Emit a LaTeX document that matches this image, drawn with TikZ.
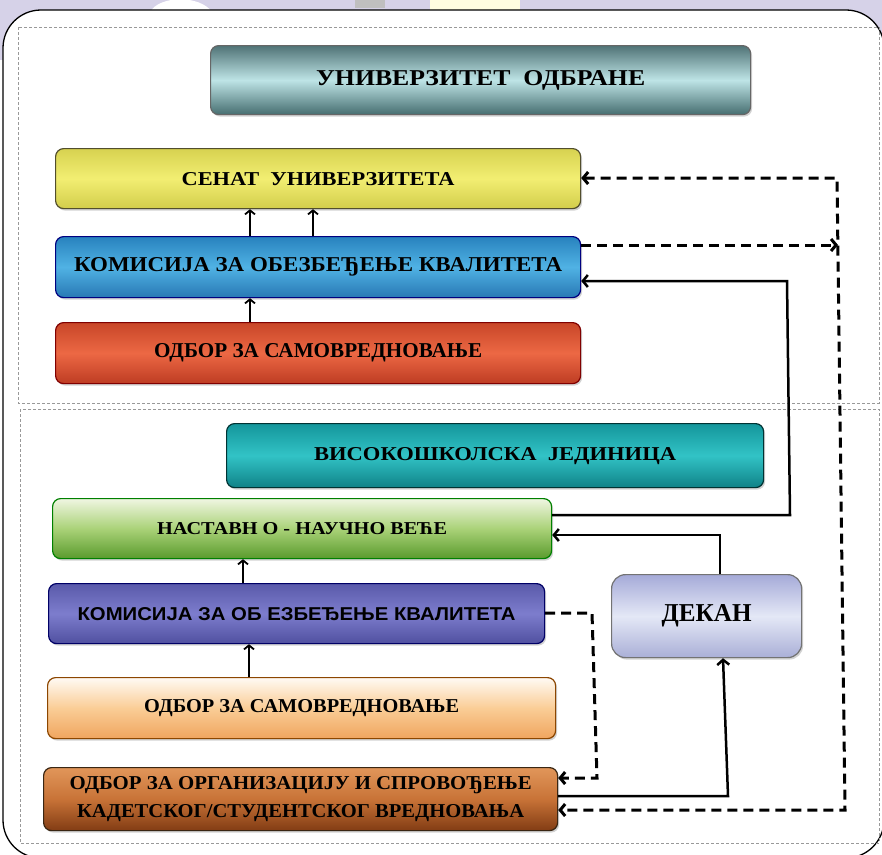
\documentclass[tikz,border=0pt]{standalone}
\usepackage{graphicx}
\usepackage{fontspec}
\setmainfont{Liberation Serif}
\newfontfamily\sansf{Liberation Sans}
\usetikzlibrary{arrows.meta,shadows}
\newcommand\fitt[3]{\resizebox{#1pt}{#2pt}{#3}}
\definecolor{lav}{HTML}{D6D2E8}
\begin{document}
\begin{tikzpicture}[x=1pt,y=-1pt,
  >={Straight Barb[length=5pt,width=12pt]},
  box/.style={rounded corners=8pt, draw=#1, line width=1.2pt, anchor=north west,
    inner sep=0pt, drop shadow={shadow xshift=1.5pt, shadow yshift=-2pt, opacity=0.35},
    font=\bfseries},
  panel/.style={draw=black!40, line width=0.6pt, dash pattern=on 3pt off 2pt},
  thinarr/.style={-{Straight Barb[length=4pt,width=10pt]}, line width=1.8pt},
  solidc/.style={line width=2.5pt, line join=miter},
  dashc/.style={line width=3pt, dash pattern=on 10pt off 6pt, line join=miter}]
\useasboundingbox (0,0) rectangle (882,854);
% background
\fill[lav] (0,0) rectangle (882,60);
\fill[white!60!yellow!30] (430,0) rectangle (520,12);
\fill[white] (150,12) .. controls (160,-5) and (200,-5) .. (212,12) -- cycle;
\fill[black!25] (355,0) rectangle (385,8);
\draw[fill=white, line width=1.3pt, rounded corners=38pt] (3,10) rectangle (884,858);
\draw[panel] (18,27) rectangle (879,403);
\draw[panel] (20,409) rectangle (879,843);
% boxes
\node[box=black!60, top color={rgb,255:red,80;green,115;blue,118}, bottom color={rgb,255:red,70;green,110;blue,112}, middle color={rgb,255:red,190;green,228;blue,230},
  minimum width=540pt, minimum height=69pt] (uni) at (210,45) {\fitt{329}{15}{УНИВЕРЗИТЕТ\ \ ОДБРАНЕ}};
\node[box=black!55!olive, top color={rgb,255:red,215;green,210;blue,80}, bottom color={rgb,255:red,210;green,205;blue,75}, middle color={rgb,255:red,242;green,238;blue,114},
  minimum width=525pt, minimum height=60pt] (senat) at (55,148) {\fitt{273}{13}{СЕНАТ\ \ УНИВЕРЗИТЕТА}};
\node[box=black!50!blue, top color={rgb,255:red,40;green,130;blue,190}, bottom color={rgb,255:red,40;green,120;blue,180}, middle color={rgb,255:red,80;green,178;blue,228},
  minimum width=525pt, minimum height=61pt] (kom1) at (55,236) {\fitt{488}{14}{КОМИСИЈА ЗА ОБЕЗБЕЂЕЊЕ КВАЛИТЕТА}};
\node[box=black!50!red, top color={rgb,255:red,200;green,70;blue,40}, bottom color={rgb,255:red,190;green,60;blue,35}, middle color={rgb,255:red,236;green,104;blue,68},
  minimum width=525pt, minimum height=61pt] (odb1) at (55,322) {\fitt{328}{14}{ОДБОР ЗА САМОВРЕДНОВАЊЕ}};
\node[box=black!60!teal, top color={rgb,255:red,20;green,150;blue,155}, bottom color={rgb,255:red,15;green,130;blue,135}, middle color={rgb,255:red,50;green,195;blue,198},
  minimum width=537pt, minimum height=64pt] (vis) at (226,423) {\fitt{362}{13}{ВИСОКОШКОЛСКА\ \ ЈЕДИНИЦА}};
\node[box=black!50!green, top color={rgb,255:red,240;green,246;blue,226}, bottom color={rgb,255:red,90;green,155;blue,45}, middle color={rgb,255:red,170;green,210;blue,120},
  minimum width=499pt, minimum height=60pt] (nnv) at (52,498) {\fitt{290}{12}{НАСТАВН О - НАУЧНО ВЕЋЕ}};
\node[box=black!60!blue, top color={rgb,255:red,90;green,90;blue,170}, bottom color={rgb,255:red,80;green,80;blue,160}, middle color={rgb,255:red,125;green,125;blue,205},
  minimum width=496pt, minimum height=60pt] (kom2) at (48,583) {\sansf\bfseries\fitt{438}{13}{КОМИСИЈА ЗА ОБ ЕЗБЕЂЕЊЕ КВАЛИТЕТА}};
\node[box=black!45!orange, top color={rgb,255:red,255;green,250;blue,244}, bottom color={rgb,255:red,240;green,165;blue,95}, middle color={rgb,255:red,250;green,205;blue,150},
  minimum width=508pt, minimum height=61pt] (odb2) at (47,677) {\fitt{315}{13}{ОДБОР ЗА САМОВРЕДНОВАЊЕ}};
\node[box=black!70!brown, top color={rgb,255:red,225;green,150;blue,90}, bottom color={rgb,255:red,130;green,60;blue,20}, middle color={rgb,255:red,200;green,115;blue,55},
  minimum width=514pt, minimum height=63pt, align=center] (org) at (43,767)
  {\fitt{462}{13}{ОДБОР ЗА ОРГАНИЗАЦИЈУ И СПРОВОЂЕЊЕ}\\[9pt]\fitt{447}{13}{КАДЕТСКОГ/СТУДЕНТСКОГ ВРЕДНОВАЊА}};
\node[box=black!55, rounded corners=14pt, top color={rgb,255:red,165;green,170;blue,216}, bottom color={rgb,255:red,170;green,175;blue,215}, middle color={rgb,255:red,228;green,232;blue,246},
  minimum width=190pt, minimum height=83pt] (dek) at (611,574) {\fitt{90}{17}{ДЕКАН}};
% coordinates
\coordinate (a1) at (250,0);
\coordinate (a2) at (313,0);
\coordinate (a3) at (243,0);
\coordinate (a4) at (249,0);
\coordinate (vtop) at (837,178);
\coordinate (vmid) at (838,245);
\coordinate (vbot) at (845,810);
\coordinate (r1) at (790,515);
\coordinate (r2) at (787,281);
\coordinate (d1) at (720,535);
\coordinate (k1) at (592,613);
\coordinate (k2) at (597,778);
\coordinate (o1) at (728,796);
\coordinate (o2) at (723,0);
% vertical arrows
\draw[thinarr] (kom1.north -| a1) -- (senat.south -| a1);
\draw[thinarr] (kom1.north -| a2) -- (senat.south -| a2);
\draw[thinarr] (odb1.north -| a1) -- (kom1.south -| a1);
\draw[thinarr] (kom2.north -| a3) -- (nnv.south -| a3);
\draw[thinarr] (odb2.north -| a4) -- (kom2.south -| a4);
% dashed connectors
\draw[dashc, <->] (senat.east |- vtop) -- (vtop) -- (vbot) -- (org.east |- vbot);
\draw[dashc, ->] (kom1.east |- vmid) -- (vmid);
\draw[dashc, ->] (kom2.east |- k1) -- (k1) -- (k2) -- (org.east |- k2);
% solid connectors
\draw[solidc, ->] (nnv.east |- r1) -- (r1) -- (r2) -- (kom1.east |- r2);
\draw[solidc, ->] (dek.north -| d1) -- (d1) -- (nnv.east |- d1);
\draw[solidc, ->] (org.east |- o1) -- (o1) -- (dek.south -| o2);
\end{tikzpicture}
\end{document}
